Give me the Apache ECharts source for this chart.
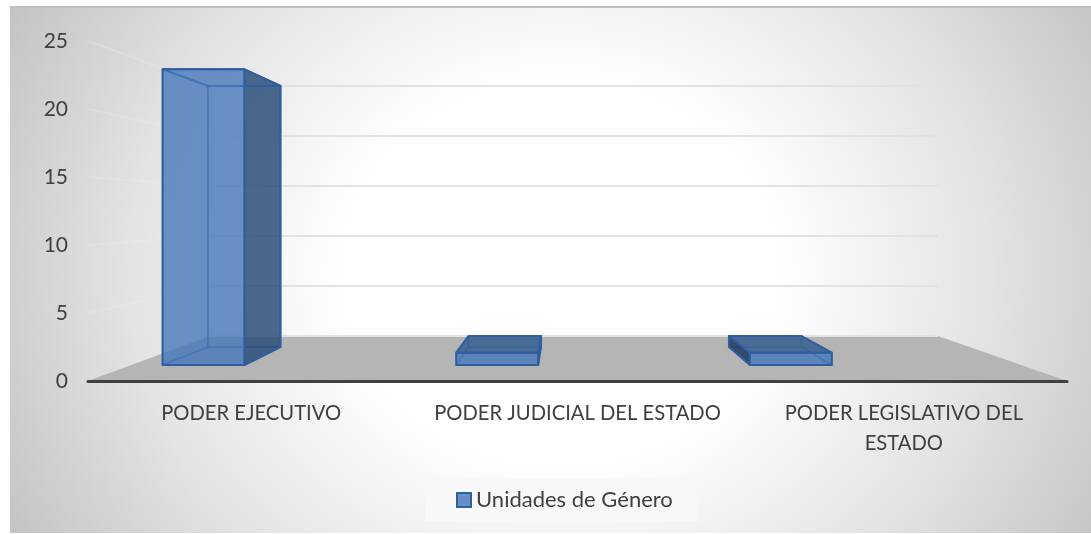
<!DOCTYPE html>
<html lang="es">
<head>
    <meta charset="UTF-8">
    <title>Unidades de Género</title>
    <script src="https://cdn.jsdelivr.net/npm/echarts@6/dist/echarts.min.js"></script>
    <style>
        html, body { margin: 0; padding: 0; background: #fff; }
        #fondo {
            position: absolute; left: 10px; top: 6px; width: 1081px; height: 527px;
            border-top: 2px solid #c0c0c0; box-sizing: border-box;
            background: radial-gradient(ellipse 770px 680px at 550px 265px,
                #ffffff 0%, #ffffff 28%, #f0f0f0 43%, #e3e3e3 56%, #cfcfcf 72%, #c0c0c0 84%);
        }
        #grafica { position: absolute; left: 0; top: 0; width: 1091px; height: 534px; }
    </style>
</head>
<body>
<div id="fondo"></div>
<div id="grafica"></div>

<script type="text/javascript">
    // datos
    var categorias = ['PODER EJECUTIVO', 'PODER JUDICIAL DEL ESTADO', 'PODER LEGISLATIVO DEL\nESTADO'];
    var unidades = [24, 1, 1];
    var marcasY = [0, 5, 10, 15, 20, 25];
    var nombreSerie = 'Unidades de Género';

    // perspectiva: punto de fuga y cuanto encoge el plano del fondo
    var fugaX = 564, fugaY = 211;
    var encogeX = 0.2564, encogeY = 0.265;
    var profFrente = 0.355, profAtras = 0.755;   // posicion de la barra en el piso
    var corrimiento = -87;                       // las barras no caen centradas sobre la etiqueta
    var compresion = 0.99;                       // y quedan un poco mas juntas que las etiquetas
    var anchoBarra = 0.276;

    function proyecta(x, y, d) {
        return [
            fugaX + (x - fugaX) * (1 - encogeX * d),
            fugaY + (y - fugaY) * (1 - encogeY * d)
        ];
    }

    function cara(puntos, relleno, borde, grosor) {
        return {
            type: 'polygon',
            shape: { points: puntos },
            style: { fill: relleno, stroke: borde, lineWidth: grosor, lineJoin: 'round' }
        };
    }

    // piso y lineas de division (pared izquierda + pared del fondo)
    function dibujaParedes(params, api) {
        var v = api.value(0);
        var r = params.coordSys;
        var y = api.coord([0, v])[1];
        var izq = r.x, der = r.x + r.width;
        if (v === 0) {
            return {
                type: 'group',
                children: [
                    cara([proyecta(izq, y, 0), proyecta(der, y, 0), proyecta(der, y, 1), proyecta(izq, y, 1)], '#b5b5b5', 'none', 0),
                    {
                        type: 'line',
                        shape: { x1: proyecta(izq, y, 1)[0], y1: proyecta(izq, y, 1)[1], x2: proyecta(der, y, 1)[0], y2: proyecta(der, y, 1)[1] },
                        style: { stroke: '#e2e2e2', lineWidth: 2 }
                    }
                ]
            };
        }
        var a = proyecta(izq, y, 0), b = proyecta(izq, y, 1), c = proyecta(der, y, 1);
        return {
            type: 'group',
            children: [
                { type: 'line', shape: { x1: a[0], y1: a[1], x2: b[0], y2: b[1] }, style: { stroke: 'rgba(238,238,238,0.25)', lineWidth: 2 } },
                { type: 'line', shape: { x1: b[0], y1: b[1], x2: c[0], y2: c[1] }, style: { stroke: '#e2e2e2', lineWidth: 2 } }
            ]
        };
    }

    function dibujaBarra(params, api) {
        var r = params.coordSys;
        var centro = r.x + r.width / 2;
        var base = api.coord([api.value(0), 0]);
        var tope = api.coord([api.value(0), api.value(1)]);
        var medio = api.size([1, 0])[0] * anchoBarra / 2;
        var xc = centro + (base[0] - centro) * compresion + corrimiento;
        var x0 = xc - medio, x1 = xc + medio;

        var fbi = proyecta(x0, base[1], profFrente), fbd = proyecta(x1, base[1], profFrente);
        var fti = proyecta(x0, tope[1], profFrente), ftd = proyecta(x1, tope[1], profFrente);
        var abi = proyecta(x0, base[1], profAtras), abd = proyecta(x1, base[1], profAtras);
        var ati = proyecta(x0, tope[1], profAtras), atd = proyecta(x1, tope[1], profAtras);

        var borde = '#2f5f9e', interior = 'rgba(60,110,180,0.75)';
        var caras = [];
        // caras de atras, solo el contorno se ve a traves del frente
        caras.push(cara([abi, abd, fbd, fbi], 'none', interior, 1.5));
        caras.push(cara([abi, abd, atd, ati], 'none', interior, 1.5));
        if (abi[0] < fbi[0]) {
            caras.push(cara([fbi, abi, ati, fti], 'rgba(38,62,98,0.9)', borde, 2));
        } else {
            caras.push(cara([fbi, abi, ati, fti], 'none', interior, 1.5));
        }
        if (abd[0] > fbd[0]) {
            caras.push(cara([fbd, abd, atd, ftd], 'rgba(43,79,120,0.85)', borde, 2));
        } else {
            caras.push(cara([fbd, abd, atd, ftd], 'none', interior, 1.5));
        }
        if (ati[1] < fti[1]) {
            caras.push(cara([fti, ftd, atd, ati], 'rgba(58,98,145,0.88)', borde, 2));
        } else {
            caras.push(cara([fti, ftd, atd, ati], 'none', borde, 2));
        }
        caras.push(cara([fbi, fbd, ftd, fti], 'rgba(70,120,186,0.8)', borde, 2));
        return { type: 'group', children: caras };
    }

    var miGrafica = echarts.init(document.getElementById('grafica'));

    var opcion = {
        backgroundColor: 'transparent',
        animation: false,
        textStyle: { fontFamily: 'Lato' },
        grid: { left: 88, top: 41, width: 979, height: 340 },
        legend: {
            data: [nombreSerie],
            left: 425,
            top: 478,
            padding: [11, 24, 11, 31],
            backgroundColor: '#f8f8f8',
            itemWidth: 14,
            itemHeight: 14,
            icon: 'rect',
            itemStyle: { color: '#6490c5', borderColor: '#2f5f9e', borderWidth: 2 },
            textStyle: { fontFamily: 'Lato', fontSize: 22, color: '#404040' }
        },
        xAxis: {
            type: 'category',
            data: categorias,
            axisLine: { show: true, onZero: false, lineStyle: { color: '#404040', width: 3, cap: 'round' } },
            axisTick: { show: false },
            axisLabel: { interval: 0, margin: 17, fontSize: 20.2, lineHeight: 30, color: '#404040', fontFamily: 'Lato' },
            z: 5
        },
        yAxis: {
            type: 'value',
            min: 0,
            max: 25,
            interval: 5,
            axisLine: { show: false },
            axisTick: { show: false },
            splitLine: { show: false },
            axisLabel: { margin: 20, fontSize: 21, color: '#404040', fontFamily: 'Lato', padding: [6, 0, 0, 0] }
        },
        series: [
            {
                name: 'paredes',
                type: 'custom',
                silent: true,
                renderItem: dibujaParedes,
                encode: { y: 0 },
                data: marcasY.map(function (v) { return [v]; }),
                z: 1
            },
            {
                name: nombreSerie,
                type: 'custom',
                renderItem: dibujaBarra,
                encode: { x: 0, y: 1 },
                itemStyle: { color: '#6490c5' },
                data: unidades.map(function (v, i) { return [i, v]; }),
                z: 3
            }
        ]
    };

    miGrafica.setOption(opcion);
</script>
</body>
</html>
